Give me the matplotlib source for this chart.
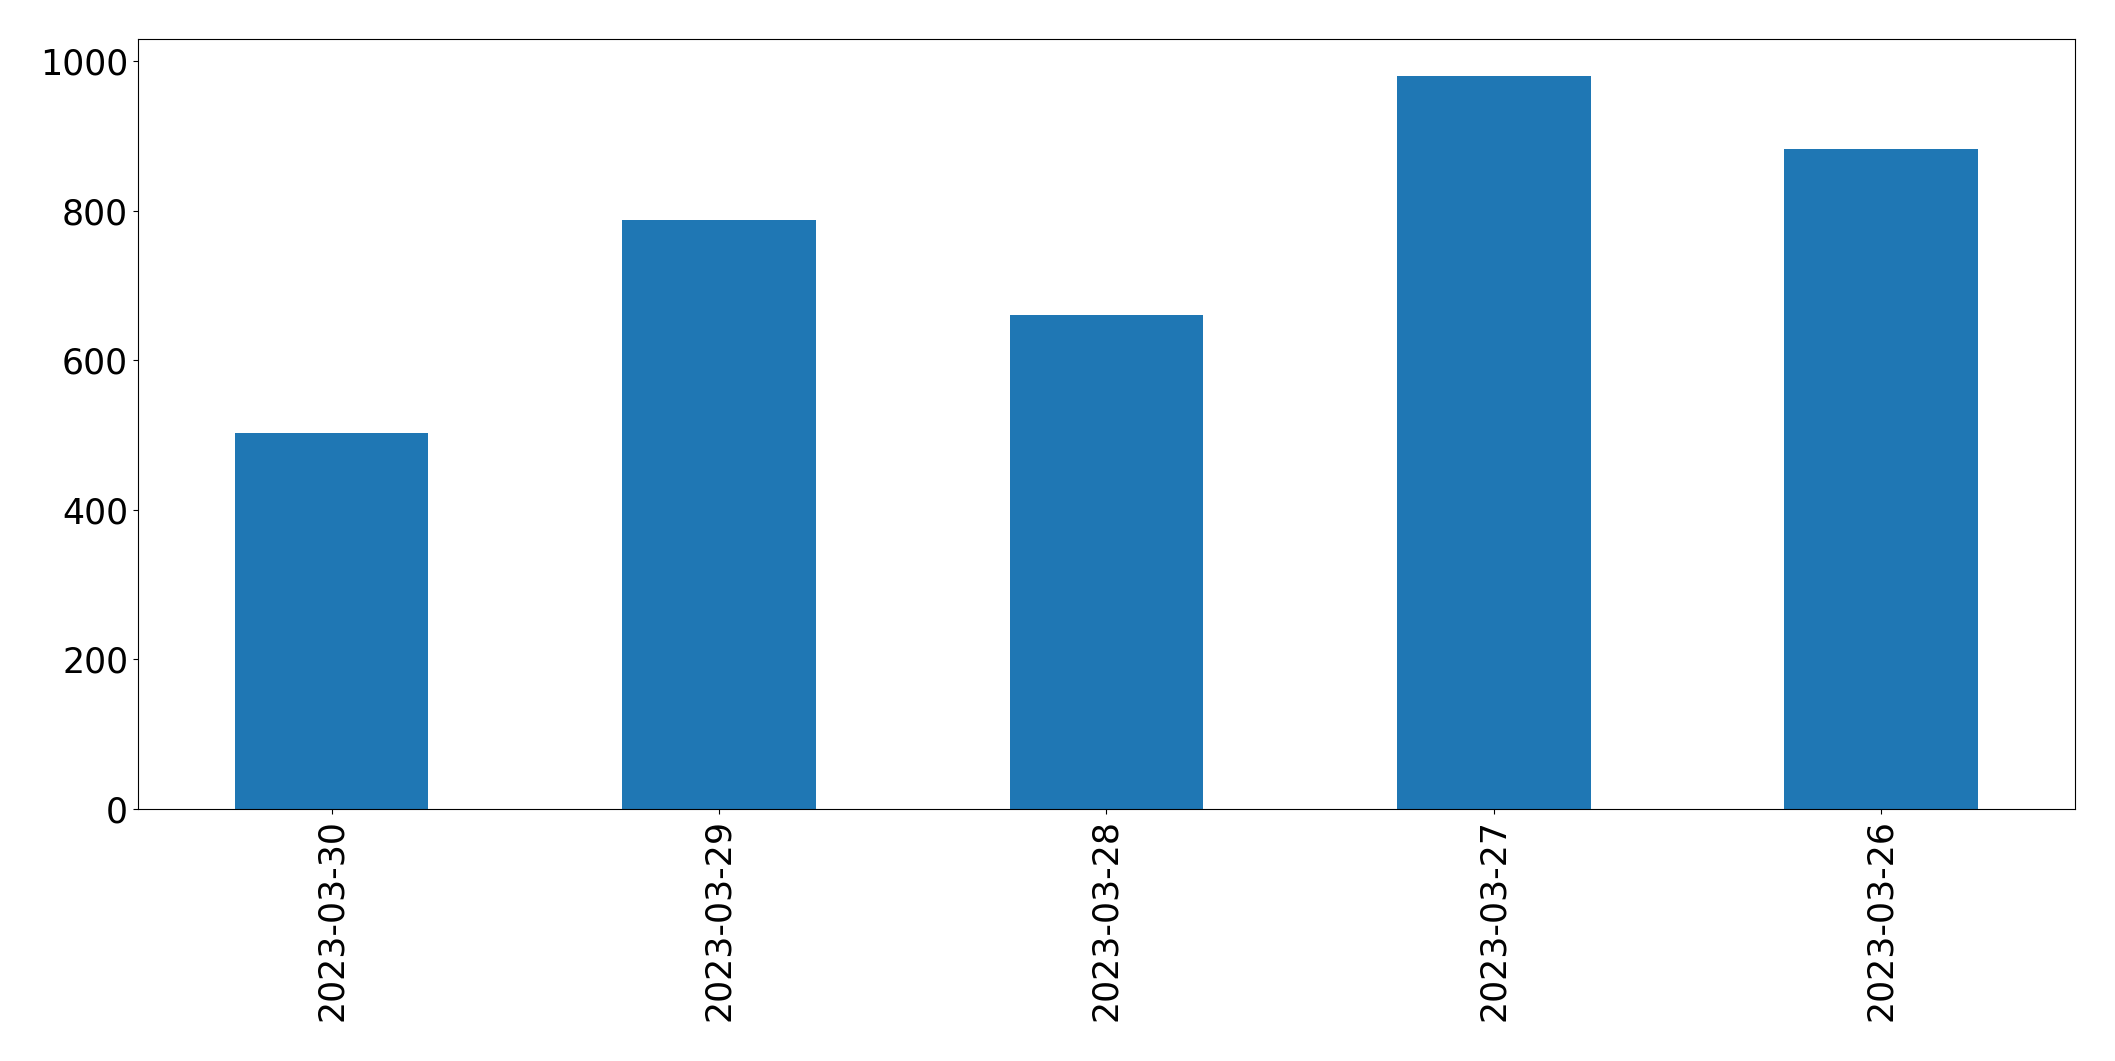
import matplotlib
matplotlib.use("Agg")
import matplotlib.pyplot as plt

dates = ["2023-03-30", "2023-03-29", "2023-03-28", "2023-03-27", "2023-03-26"]
values = [502, 788, 661, 980, 882]

fig = plt.figure(figsize=(21.15, 10.61), dpi=100)
ax = fig.add_axes([0.0652, 0.2375, 0.981 - 0.0652, 0.963 - 0.2375])
x = list(range(len(dates)))
ax.bar(x, values, width=0.5, color="#1f77b4")
ax.set_xlim(-0.5, len(dates) - 0.5)
ax.set_xticks(x)
ax.set_xticklabels(dates, rotation=90)
ax.tick_params(axis="both", labelsize=25)
fig.savefig("out.png", dpi=100)
